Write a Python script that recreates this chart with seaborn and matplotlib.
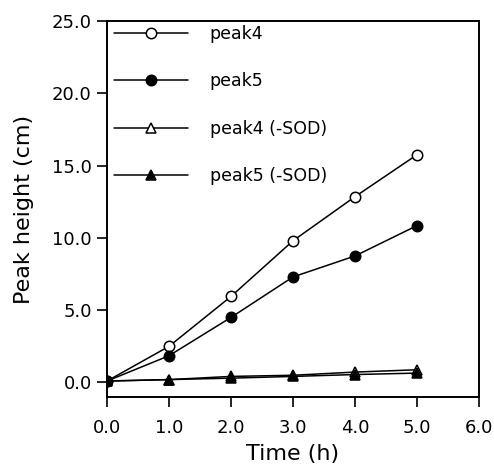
import matplotlib
matplotlib.use("Agg")
import matplotlib.pyplot as plt
import seaborn as sns
import pandas as pd

time_h = [0, 1, 2, 3, 4, 5]
peak4 = [0.1, 2.5, 5.95, 9.8, 12.85, 15.75]
peak5 = [0.1, 1.85, 4.5, 7.3, 8.75, 10.85]
peak4_sod = [0.1, 0.2, 0.42, 0.5, 0.72, 0.88]
peak5_sod = [0.1, 0.2, 0.3, 0.42, 0.55, 0.65]
labels = ["peak4", "peak5", "peak4 (-SOD)", "peak5 (-SOD)"]
x_ticks = [0, 1, 2, 3, 4, 5, 6]
y_ticks = [0, 5, 10, 15, 20, 25]

sns.set_theme(style="ticks")
plt.rcParams['font.family'] = ['DejaVu Sans']
plt.rcParams['text.color'] = 'black'
plt.rcParams['axes.labelcolor'] = 'black'

fig = plt.figure(figsize=(4.94, 4.67), dpi=100)
ax = fig.add_axes([0.2166, 0.150, 0.753, 0.805])

series = [peak4, peak5, peak4_sod, peak5_sod]
markers = ["o", "o", "^", "^"]
faces = ["white", "black", "white", "black"]
for vals, lab, m, fc in zip(series, labels, markers, faces):
    df = pd.DataFrame({"t": time_h, "v": vals})
    sns.lineplot(data=df, x="t", y="v", ax=ax, color="black", linewidth=1.1,
                 marker=m, markersize=7.5, markerfacecolor=fc,
                 markeredgecolor="black", markeredgewidth=1.1, label=lab)

ax.set_xlim(0, 6)
ax.set_ylim(-1, 25)
ax.set_xticks(x_ticks)
ax.set_xticklabels([f"{v:.1f}" for v in x_ticks])
ax.set_yticks(y_ticks)
ax.set_yticklabels([f"{v:.1f}" for v in y_ticks])
ax.tick_params(direction="out", length=7, width=1.2, labelsize=13, colors="black")
ax.tick_params(axis="x", pad=9)
ax.tick_params(axis="y", pad=4)
for s in ax.spines.values():
    s.set_linewidth(1.4)
    s.set_color("black")
ax.set_xlabel("Time (h)", fontsize=16, labelpad=5, color="black")
ax.set_ylabel("Peak height (cm)", fontsize=16, labelpad=13, color="black")

leg = ax.legend(loc="upper left", bbox_to_anchor=(0.019, 0.99), frameon=False,
                fontsize=12.5, handlelength=4.25, handletextpad=1.25,
                labelspacing=1.7, borderaxespad=0, borderpad=0)
for t in leg.get_texts():
    t.set_color("black")

fig.savefig("out.png", dpi=100)
